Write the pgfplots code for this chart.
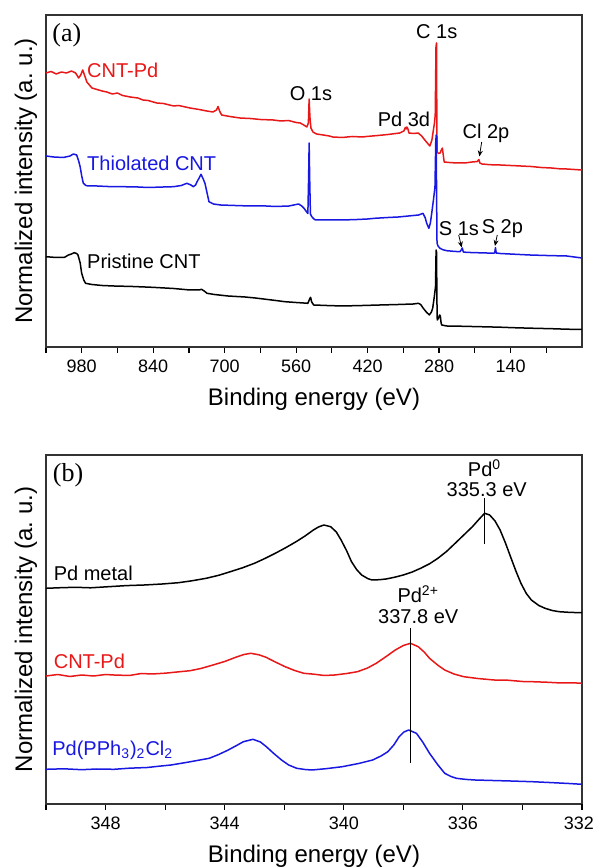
\documentclass[border=0pt]{standalone}
\usepackage{fontspec}
\setmainfont{Liberation Sans}
\newfontfamily\timesfont{Liberation Serif}
\usepackage{pgfplots}
\pgfplotsset{compat=1.18}
\usetikzlibrary{arrows.meta}

\definecolor{xred}{RGB}{232,24,24}
\definecolor{xblue}{RGB}{24,24,226}

\tikzset{lab/.style={anchor=west, inner xsep=0pt}}

\pgfplotsset{
  xps/.style={
    scale only axis, width=268pt, x dir=reverse,
    axis line style={line width=0.6pt, black!80},
    ytick=\empty, xtick pos=left,
    tick align=outside, major tick length=3pt, minor tick length=3pt,
    every tick/.style={black, line width=0.6pt},
    ticklabel style={font=\fontsize{9}{10}\selectfont},
    /pgf/number format/assume math mode=true,
    /pgf/number format/1000 sep={},
    xlabel={Binding energy (eV)},
    ylabel={Normalized intensity (a.~u.)},
    label style={font=\fontsize{12}{14}\selectfont},
    xlabel style={at={(axis description cs:0.5,0)}, anchor=center, yshift=-26pt},
    ylabel style={at={(axis description cs:-0.0373,0.5)}, anchor=center},
    clip mode=individual,
    every axis plot/.append style={line width=0.75pt, line join=round},
    every node/.append style={font=\fontsize{9}{10}\selectfont},
  },
}

\begin{document}
\begin{tikzpicture}
\useasboundingbox (0,0) rectangle (297pt,434pt);

% ---------------- (a) survey ----------------
\begin{axis}[xps, at={(23pt,260.5pt)}, anchor=south west, height=166pt,
  xmin=0, xmax=1050, ymin=0, ymax=332,
  xtick={140,280,420,560,700,840,980},
  minor xtick={70,210,350,490,630,770,910,1050}]

% CNT-Pd
\addplot[xred] coordinates {
(1050,274)(1040,275.5)(1030,273)(1020,275)(1010,274)(1000,276)(992,274)(986,269)
(982,272)(978,277)(974,271)(970,265)(965,262)(960,259)(950,257.5)(940,256)(931,255)
(920,253)(910,254)(900,251.5)(885,250)(870,249)(860,247)(850,246.5)(833,244)(820,243.5)
(800,241)(790,241.5)(768,239)(750,237.5)(735,236)(723,235)(716,237)(713,240.5)(710,236)
(706,232)(690,230.5)(670,229)(650,228.5)(630,227.5)(605,227)(590,226)(575,226.5)
(560,224.5)(552,224)(545,222)(539,220)(536,224)(534.5,248)(533,230)(531,219)(527,215)
(520,213)(507,212)(495,211)(488,210)(470,209.5)(450,210.5)(430,210)(422,210.5)(400,211.5)
(380,212.5)(357,214)(349,216)(346,219.5)(344.5,218)(343,220)(341,218)(339,214)(330,213.5)
(321,214)(314,211)(308,207)(303,204)(298,201)(294,207)(292,214)(289,224)(287.5,232)
(286,300)(285,304)(284.3,220)(283.6,195)(281,193.5)(278,194)(275.5,197)(273.5,199)
(272,193)(270,185)(260,184.5)(245,184)(230,184)(215,185)(205,185.5)(202,187.5)(200,184)
(196,183)(185,182.5)(170,182)(160,182)(140,181.5)(120,181)(100,180.5)(80,179.5)(60,179)
(40,178)(30,178)(15,177.5)(0,177)
};

% Thiolated CNT
\addplot[xblue] coordinates {
(1050,191)(1035,190)(1016,189.5)(1003,191)(996.5,193)(990,192)(986,186)(983,180)(980,171)
(977,164)(972,161.5)(967,161)(950,161)(930,160.5)(899,160.3)(870,160)(850,159.5)(820,160)
(800,160.3)(785,161.5)(774,163.7)(766,162)(761.5,160.3)(757,162)(754,165.3)(750,169)
(746.4,172.7)(742,168)(738.6,163.7)(734,153)(730.7,145.3)(722,143)(708,142)(680,141.5)
(650,141)(619,141)(600,140.5)(574,141)(560,142.5)(555,143)(549,141)(544.6,138.7)(540,135.5)
(537,133.5)(535.5,170)(534.5,204)(533.5,170)(532,133)(529.3,130.3)(525,128)(522,127)
(500,127)(470,127)(440,127.5)(420,128)(406,128.7)(380,129.5)(360,130)(340,131)(320,132)
(311.5,133.7)(307,129)(304.2,123.7)(300,118.7)(297,124)(294.4,133.7)(291,147)(288,160)
(286.5,205)(285.6,212)(284.8,150)(284,104)(282,101)(278.2,98.7)(272,97.2)(265.1,96.3)
(250,95.6)(239,95.3)(236,97.5)(234.5,99)(232.5,95)(225,94.6)(200,94.2)(180,93.9)(171,94)
(169.5,99.3)(168,94)(160,93.5)(130,92.7)(102,92)(70,91.5)(30,91)(0,89)
};

% Pristine CNT
\addplot[black] coordinates {
(1050,90.3)(1030,89.5)(1013.6,89.7)(1006,92)(1000,93)(995,94.3)(990,93.5)(987.3,92)(983,84)
(980.1,73.7)(976,67)(972.5,63.7)(960,62.5)(940,61.5)(917,61)(880,60.5)(842,59.7)(800,58.5)
(768,57)(750,57)(745.4,57.7)(740,56)(734.6,53.7)(720,52.5)(693.5,51)(660,50)(640,49)
(619,47.7)(600,46.5)(582,45.3)(560,44.5)(537,43.7)(533.5,48)(531.7,49.7)(529.5,45)
(525.6,42)(500,41.5)(470,41)(430,41.5)(396,42)(360,42.5)(330.5,43)(320.7,43.7)(316,42.5)
(310.9,38.7)(305,35)(299.1,32)(295,35)(292.5,38.7)(289.3,50.3)(287,60)(285.8,97)(285,95)
(284,40)(283.5,27)(281,29)(279,32)(277.5,31)(276,24)(274.8,22)(265,21)(240,20.8)(200,20.3)
(160,19.8)(135,19.3)(100,18.8)(60,18.3)(30,17.8)(0,17.5)
};

\node[font=\timesfont\fontsize{13}{14}\selectfont] at (axis cs:1009,312) {(a)};
\node at (axis cs:284.6,315.3) {C 1s};
\node[lab, text=xred] at (axis cs:970,277) {CNT-Pd};
\node at (axis cs:531,253.7) {O 1s};
\node at (axis cs:348.7,228) {Pd 3d};
\node at (axis cs:188,213.7) {Cl 2p};
\draw[line width=0.4pt, -{Stealth[length=3pt,width=2.5pt]}] (axis cs:196.5,205) -- (axis cs:201,190.5);
\node[lab, text=xblue] at (axis cs:970,183.7) {Thiolated CNT};
\node at (axis cs:241,118) {S 1s};
\draw[line width=0.4pt, -{Stealth[length=3pt,width=2.5pt]}] (axis cs:241.5,112) -- (axis cs:235.7,99.5);
\node at (axis cs:156,118) {S 2p};
\draw[line width=0.4pt, -{Stealth[length=3pt,width=2.5pt]}] (axis cs:166,112) -- (axis cs:170.5,101);
\node[lab] at (axis cs:970,85.3) {Pristine CNT};
\end{axis}

% ---------------- (b) Pd 3d ----------------
\begin{axis}[xps, at={(23pt,32pt)}, anchor=south west, height=174.5pt,
  xmin=332, xmax=350, ymin=0, ymax=349,
  xtick={336,340,344,348},
  extra x ticks={332},
  extra x tick style={tick label style={xshift=-1.5pt}},
  minor xtick={334,338,342,346,350}]

% Pd metal
\addplot[black] coordinates {
(350.0,215.7)(349.5,216.3)(349.0,216.7)(348.5,216.2)(347.9,217.3)(347.3,218.4)(346.7,219)
(346.1,220)(345.55,221.3)(345.1,223.2)(344.62,225.7)(344.2,228.7)(343.81,232.3)(343.4,236.2)
(343.0,240.7)(342.65,245.5)(342.30,250.7)(341.95,256.3)(341.60,262.3)(341.3,268)(341.02,274)
(340.85,277)(340.67,279)(340.44,277.3)(340.25,272)(340.09,264)(339.9,253)(339.74,242.3)
(339.57,234.5)(339.40,229)(339.2,225.5)(339.05,224)(338.8,224.3)(338.58,225)(338.3,226.7)
(338.0,229)(337.7,232)(337.42,235.7)(337.12,240.2)(336.84,245.7)(336.55,252.5)(336.26,260.7)
(335.97,269)(335.68,277.3)(335.45,285)(335.27,290.7)(335.10,289)(334.92,283)(334.75,274)
(334.57,261)(334.40,247.3)(334.22,233)(334.05,220.7)(333.87,210.5)(333.70,204)(333.45,198.5)
(333.24,195.7)(333.0,193.5)(332.77,192.3)(332.4,191.6)(332.0,191.3)
};

% CNT-Pd
\addplot[xred] coordinates {
(350.0,128)(349.6,129.5)(349.2,127.5)(348.8,129)(348.4,128)(348.0,129.5)(347.72,129)
(347.2,128.5)(346.8,130.5)(346.44,130)(346.0,130.8)(345.6,132)(345.16,133.3)(344.8,135.5)
(344.39,139)(344.0,142.5)(343.63,146.7)(343.35,149.5)(343.12,150.7)(342.85,149.2)
(342.61,146.7)(342.3,142)(341.97,137.3)(341.65,133.5)(341.34,130.7)(341.0,129.8)
(340.65,128.5)(340.31,129)(339.9,130.5)(339.54,132.3)(339.2,136)(338.91,140.7)(338.6,147)
(338.27,154)(338.0,158.5)(337.76,160.7)(337.50,157.3)(337.3,152)(337.12,145.7)(336.85,139)
(336.61,134)(336.3,130)(335.97,127.3)(335.5,125.5)(334.95,124)(334.5,123.8)(334.0,122.5)
(333.67,122.3)(333.2,121.8)(332.7,121)(332.3,121.2)(332.0,120.7)
};

% Pd(PPh3)2Cl2
\addplot[xblue] coordinates {
(350.0,34.7)(349.4,35.2)(348.8,34.3)(348.3,35)(347.72,34.7)(347.2,35.8)(346.6,36.5)
(346.2,37.8)(345.80,39)(345.2,42)(344.52,45.7)(344.2,49.5)(343.88,54)(343.6,58.5)
(343.37,62.3)(343.05,64.7)(342.8,62)(342.60,57.3)(342.35,50.5)(342.09,44)(341.85,39)
(341.58,35.7)(341.3,34.5)(341.07,34)(340.6,35.3)(340.05,37.3)(339.5,40.5)(339.03,44)
(338.75,48)(338.52,52.3)(338.32,59)(338.14,67.3)(337.98,72)(337.82,74)(337.56,70.7)
(337.35,62)(337.12,50.7)(336.85,39.5)(336.61,30.7)(336.4,27.5)(336.22,25.7)(335.9,24.6)
(335.59,24)(335.0,23.5)(334.4,23)(333.67,22.3)(333.1,21.5)(332.5,20.6)(332.0,19.7)
};

\node[font=\timesfont\fontsize{13}{14}\selectfont] at (axis cs:349.26,329) {(b)};
\node[lab] at (axis cs:349.75,230.7) {Pd metal};
\node[lab, text=xred] at (axis cs:349.75,142.3) {CNT-Pd};
\node[lab, text=xblue] at (axis cs:349.8,54) {Pd(PPh\textsubscript{3})\textsubscript{2}Cl\textsubscript{2}};
\node at (axis cs:335.27,335.7) {Pd\textsuperscript{0}};
\node at (axis cs:335.2,314) {335.3 eV};
\draw[line width=0.8pt] (axis cs:335.27,305.7) -- (axis cs:335.27,260);
\node at (axis cs:337.5,210) {Pd\textsuperscript{2+}};
\node at (axis cs:337.5,187.3) {337.8 eV};
\draw[line width=0.8pt] (axis cs:337.76,175.7) -- (axis cs:337.76,41.3);
\end{axis}
\end{tikzpicture}
\end{document}
